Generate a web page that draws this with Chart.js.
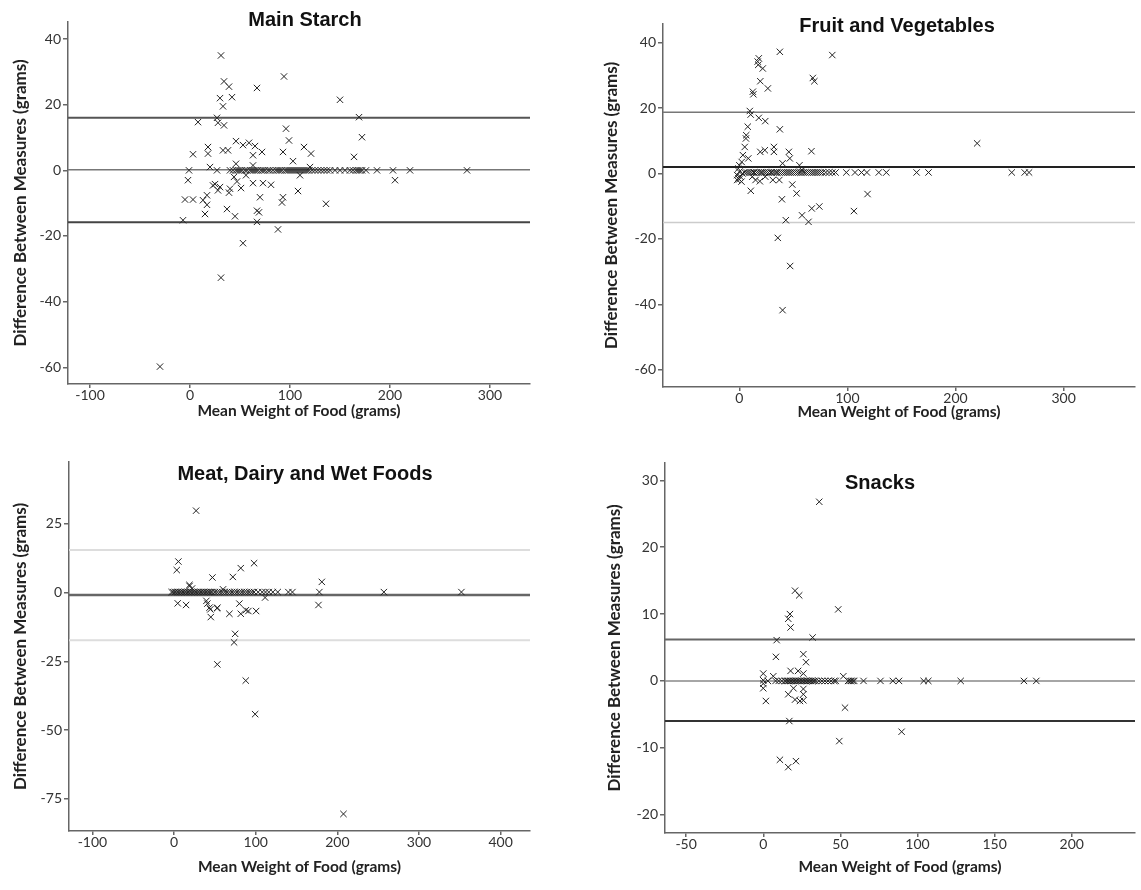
<!DOCTYPE html>
<html>
<head>
<meta charset="utf-8">
<title>Bland-Altman plots</title>
<script src="https://cdn.jsdelivr.net/npm/chart.js@4"></script>
<style>
    body { margin: 0; background: #fff; width: 1141px; height: 890px; position: relative; overflow: hidden; }
    canvas { position: absolute; }
    .plot-title { position: absolute; font: bold 20px "Liberation Sans", Arial, sans-serif; color: #111;
        transform: translate(-50%, -50%); white-space: nowrap; }
</style>
</head>
<body>
<canvas id="starch" width="540" height="430" style="left:0;top:0"></canvas>
<canvas id="fruit" width="571" height="430" style="left:570px;top:0"></canvas>
<canvas id="meat" width="540" height="450" style="left:0;top:440px"></canvas>
<canvas id="snacks" width="571" height="450" style="left:570px;top:440px"></canvas>
<div class="plot-title" style="left:305px;top:19px">Main Starch</div>
<div class="plot-title" style="left:897px;top:25px">Fruit and Vegetables</div>
<div class="plot-title" style="left:305px;top:473px">Meat, Dairy and Wet Foods</div>
<div class="plot-title" style="left:880px;top:482px">Snacks</div>
<script>
// [mean weight, difference] pairs
const starchPoints = [
    [31, 35.0], [34, 27.1], [39, 25.5], [30, 22.0], [42, 22.3], [33, 19.5], [67, 25.1], [94, 28.6], [150, 21.5],
    [8, 14.7], [27, 16.0], [28, 14.5], [34, 13.7], [169, 16.2], [172, 10.1], [96, 12.7], [99, 9.1],
    [3, 4.9], [18, 7.1], [18, 5.1], [33, 6.1], [38, 6.1], [46, 8.9], [53, 7.7], [59, 8.4], [65, 7.4], [63, 4.6],
    [72, 5.6], [93, 5.6], [103, 2.8], [114, 7.1], [121, 5.1], [164, 4.1], [20, 1], [46, 2], [63, 1.5], [120, 1],
    [205, -3.0], [-2, -3], [23, -4.6], [28, -6.1], [39, -6.8], [47, -3.4], [51, -5.4], [63, -3.9], [73, -3.9],
    [81, -4.4], [108, -6.3], [40, -5.6], [30, -5.1], [25, -4.2], [-5, -8.9], [3, -8.9], [13, -9.1], [17, -7.6],
    [17, -10.5], [15, -13.3], [-7, -15.2], [37, -11.8], [45, -14.0], [70, -8.2], [67, -12.3], [69, -12.8],
    [67, -15.7], [93, -8.2], [92, -9.8], [136, -10.2], [88, -18.0], [53, -22.2], [31, -32.7], [-30, -59.8],
    [44, -2], [56, -1.5], [110, -1.5],
    [-1, 0], [27, 0], [40, 0], [43, 0], [46, 0], [48, 0], [50, 0], [52, 0], [55, 0], [57, 0], [60, 0], [62, 0],
    [64, 0], [66, 0], [68, 0], [71, 0], [73, 0], [75, 0], [78, 0], [80, 0], [83, 0], [86, 0], [88, 0], [90, 0],
    [92, 0], [95, 0], [97, 0], [99, 0], [101, 0], [103, 0], [105, 0], [107, 0], [109, 0], [111, 0], [113, 0],
    [115, 0], [117, 0], [119, 0], [122, 0], [125, 0], [128, 0], [131, 0], [134, 0], [137, 0], [140, 0], [145, 0],
    [150, 0], [155, 0], [160, 0], [163, 0], [166, 0], [168, 0], [170, 0], [172, 0], [176, 0], [187, 0], [203, 0],
    [220, 0], [277, 0]
];
const starchLimits = [16.0, 0.2, -15.8]; // upper limit, mean, lower limit
const starchXTicks = [-100, 0, 100, 200, 300];
const starchYTicks = [-60, -40, -20, 0, 20, 40];

const fruitPoints = [
    [37.5, 37.2], [86, 36.2], [18, 35.2], [17, 34.2], [17.5, 33.2], [21.7, 32.1], [19.4, 28.2], [26.4, 26.0],
    [12.5, 25.0], [13, 24.2], [68, 29.2], [69.4, 28.2], [9.7, 19.1], [10.5, 18.0], [18, 17.0], [24, 16.0],
    [37.5, 13.5], [7.8, 14.3], [6.4, 11.7], [6.1, 10.7], [5, 8.1], [19.4, 6.6], [23.6, 7.1], [32, 8.1], [32, 6.6],
    [45.8, 6.6], [46.7, 4.6], [66.7, 6.8], [3.3, 5.6], [2.2, 3.5], [8.3, 4.6], [40, 3.1], [55.6, 2.5], [58, 1],
    [220, 9.2],
    [0, 2.5], [-1, 1.5], [0, 0.5], [-2, -0.5], [1, -1], [0, -1.8], [2, -2.5], [3, 0], [-1, -1.5], [-2, -2],
    [15, -2], [19, -2.4], [31, -2], [37, -2], [24, -1], [12, -1],
    [10.6, -5.3], [39.4, -7.9], [49, -3.4], [53, -6.1], [43, -14.3], [58, -12.8], [64, -14.8], [67, -10.7],
    [74, -10.1], [35.6, -19.7], [47, -28.3], [40, -41.8], [106, -11.5], [118.6, -6.3],
    [5, 0.3], [7, 0.3], [9, 0.3], [11, 0.3], [13, 0.3], [14, 0.3], [16, 0.3], [18, 0.3], [20, 0.3], [21, 0.3],
    [23, 0.3], [25, 0.3], [27, 0.3], [29, 0.3], [30, 0.3], [32, 0.3], [34, 0.3], [35, 0.3], [37, 0.3], [39, 0.3],
    [41, 0.3], [43, 0.3], [45, 0.3], [47, 0.3], [49, 0.3], [51, 0.3], [53, 0.3], [55, 0.3], [57, 0.3], [59, 0.3],
    [61, 0.3], [63, 0.3], [65, 0.3], [67, 0.3], [69, 0.3], [71, 0.3], [73, 0.3], [75, 0.3], [77, 0.3], [80, 0.3],
    [83, 0.3], [86, 0.3], [89, 0.3], [99, 0.3], [107, 0.3], [113, 0.3], [118, 0.3], [129, 0.3], [136, 0.3],
    [164, 0.3], [175, 0.3], [252, 0.3], [264, 0.3], [268, 0.3]
];
const fruitLimits = [18.7, 2.0, -15.0];
const fruitXTicks = [0, 100, 200, 300];
const fruitYTicks = [-60, -40, -20, 0, 20, 40];

const meatPoints = [
    [27, 29.8], [5.3, 11.3], [3.3, 8.2], [18.8, 2.8], [47, 5.5], [72, 5.7], [81.7, 8.9], [98, 10.7], [181, 3.9],
    [176.9, -4.5], [4.5, -3.9], [14.7, -4.5], [40.8, -4], [43.3, -5.5], [45, -8.9], [53, -5.5], [67.8, -7.7],
    [80, -4], [81.7, -7.7], [88, -6.4], [100.5, -6.7], [111.5, -1.8], [74.8, -15], [73.5, -18.1], [53, -26.1],
    [87.8, -32], [99.3, -44.2], [207.5, -80.5], [39.6, -3], [44.4, -6.1], [52.7, -5.7], [91, -6.7], [19, 2.4],
    [22, 1.5], [60, 1.2],
    [-3, 0.2], [-1, 0.2], [1, 0.2], [3, 0.2], [5, 0.2], [7, 0.2], [9, 0.2], [11, 0.2], [13, 0.2], [15, 0.2],
    [17, 0.2], [19, 0.2], [21, 0.2], [23, 0.2], [25, 0.2], [27, 0.2], [29, 0.2], [31, 0.2], [33, 0.2], [35, 0.2],
    [37, 0.2], [39, 0.2], [41, 0.2], [43, 0.2], [45, 0.2], [47, 0.2], [50, 0.2], [53, 0.2], [56, 0.2], [59, 0.2],
    [62, 0.2], [65, 0.2], [68, 0.2], [71, 0.2], [74, 0.2], [77, 0.2], [80, 0.2], [83, 0.2], [86, 0.2], [89, 0.2],
    [92, 0.2], [95, 0.2], [98, 0.2], [103, 0.2], [108, 0.2], [112, 0.2], [116, 0.2], [121, 0.2], [127, 0.2],
    [140, 0.2], [145, 0.2], [178, 0.2], [257, 0.2], [352, 0.2]
];
const meatLimits = [15.5, -0.9, -17.3];
const meatXTicks = [-100, 0, 100, 200, 300, 400];
const meatYTicks = [-75, -50, -25, 0, 25];

const snackPoints = [
    [36.3, 26.8], [20.6, 13.5], [23.3, 12.8], [17.3, 10], [16.2, 9.3], [17.7, 8.0], [48.6, 10.7], [32, 6.5],
    [8.7, 6.1], [8.2, 3.6], [26, 4.0], [27.7, 2.8], [0, 1.1], [0, 0.1], [0, -0.4], [0, -1.1], [6.5, 0.7],
    [1.7, -3.0], [17.7, 1.5], [22.6, 1.5], [26, 1.1], [16.2, -2], [20.6, -2.8], [23.8, -3], [26, -2], [26, -2.9],
    [19.6, -1.1], [51.9, 0.7], [53, -4.0], [16.9, -6.0], [89.7, -7.6], [49.3, -9.0], [10.8, -11.8],
    [16.2, -12.9], [21.2, -12.0], [26, -1.2],
    [3, 0], [8, 0], [10, 0], [12, 0], [14, 0], [15, 0], [16, 0], [17, 0], [18, 0], [19, 0], [20, 0], [21, 0],
    [22, 0], [23, 0], [24, 0], [25, 0], [26, 0], [27, 0], [28, 0], [29, 0], [30, 0], [31, 0], [32, 0], [33, 0],
    [34, 0], [36, 0], [38, 0], [40, 0], [42, 0], [44, 0], [46, 0], [47, 0], [55, 0], [56, 0], [57, 0], [58, 0],
    [59, 0], [65, 0], [76, 0], [84, 0], [88, 0], [104, 0], [107, 0], [128, 0], [169, 0], [177, 0]
];
const snackLimits = [6.2, 0.0, -6.0];
const snackXTicks = [-50, 0, 50, 100, 150, 200];
const snackYTicks = [-20, -10, 0, 10, 20, 30];

const yLabel = 'Difference Between Measures (grams)';
const xLabel = 'Mean Weight of Food (grams)';

// Layout of each panel inside its canvas (pixels)
const panels = [
    { id: 'starch', points: starchPoints, limits: starchLimits, xTicks: starchXTicks, yTicks: starchYTicks,
      xMin: -122, xMax: 340, yMin: -65.1, yMax: 45.2,
      area: { l: 68, t: 22, r: 530, b: 384 }, yTitlePad: 10, xTitlePad: 10,
      lineColors: ['#555', '#777', '#444'], lineWidths: [2, 1.5, 2] },
    { id: 'fruit', points: fruitPoints, limits: fruitLimits, xTicks: fruitXTicks, yTicks: fruitYTicks,
      xMin: -70.6, xMax: 366, yMin: -65.3, yMax: 45.7,
      area: { l: 93, t: 24, r: 565, b: 387 }, yTitlePad: 31, xTitlePad: 9,
      lineColors: ['#777', '#222', '#ccc'], lineWidths: [1.5, 2, 1.5] },
    { id: 'meat', points: meatPoints, limits: meatLimits, xTicks: meatXTicks, yTicks: meatYTicks,
      xMin: -128.7, xMax: 436, yMin: -86.7, yMax: 47.5,
      area: { l: 69, t: 22, r: 530, b: 391 }, yTitlePad: 10, xTitlePad: 14,
      lineColors: ['#ddd', '#666', '#ddd'], lineWidths: [2, 2.5, 2] },
    { id: 'snacks', points: snackPoints, limits: snackLimits, xTicks: snackXTicks, yTicks: snackYTicks,
      xMin: -63.7, xMax: 241, yMin: -22.75, yMax: 32.6,
      area: { l: 95, t: 23, r: 565, b: 393 }, yTitlePad: 34, xTitlePad: 14,
      lineColors: ['#666', '#888', '#333'], lineWidths: [2, 1.5, 2] }
];

const tickFont = { family: 'Lato, "Open Sans", sans-serif', size: 14 };
const xTitleFont = { family: 'Lato, "Open Sans", sans-serif', size: 15.5, weight: 'bold' };
const yTitleFont = { family: 'Lato, "Open Sans", sans-serif', size: 17, weight: 'bold' };

panels.forEach(p => {
    const canvas = document.getElementById(p.id);
    const W = canvas.width, H = canvas.height;

    // limit / mean lines drawn across the whole x range
    const lineSets = p.limits.map((v, i) => ({
        type: 'line',
        data: [{ x: p.xMin, y: v }, { x: p.xMax, y: v }],
        borderColor: p.lineColors[i],
        borderWidth: p.lineWidths[i],
        pointRadius: 0,
        order: 2
    }));

    new Chart(canvas, {
        type: 'scatter',
        data: {
            datasets: [{
                data: p.points.map(d => ({ x: d[0], y: d[1] })),
                pointStyle: 'crossRot',
                pointRadius: 4.5,
                borderColor: '#222',
                borderWidth: 1,
                order: 1
            }, ...lineSets]
        },
        options: {
            responsive: false,
            animation: false,
            layout: { padding: { left: 0, top: p.area.t, right: W - p.area.r, bottom: 0 } },
            plugins: { legend: { display: false }, tooltip: { enabled: false } },
            scales: {
                x: {
                    type: 'linear', min: p.xMin, max: p.xMax,
                    afterBuildTicks: s => { s.ticks = p.xTicks.map(v => ({ value: v })); },
                    afterFit: s => { s.height = H - p.area.b; },
                    border: { display: true, color: '#666', width: 1.5 },
                    grid: { display: true, drawOnChartArea: false, drawTicks: true, tickLength: 4, color: '#666', lineWidth: 1.5 },
                    ticks: { font: tickFont, color: '#333', padding: -1, maxRotation: 0 },
                    title: { display: true, text: xLabel, font: xTitleFont, color: '#222', padding: { top: 0, bottom: p.xTitlePad } }
                },
                y: {
                    type: 'linear', min: p.yMin, max: p.yMax,
                    afterBuildTicks: s => { s.ticks = p.yTicks.map(v => ({ value: v })); },
                    afterFit: s => { s.width = p.area.l; },
                    border: { display: true, color: '#666', width: 1.5 },
                    grid: { display: true, drawOnChartArea: false, drawTicks: true, tickLength: 5, color: '#666', lineWidth: 1.5 },
                    ticks: { font: tickFont, color: '#333', padding: 2 },
                    title: { display: true, text: yLabel, font: yTitleFont, color: '#222', padding: { top: p.yTitlePad, bottom: 0 } }
                }
            }
        }
    });
});
</script>
</body>
</html>
